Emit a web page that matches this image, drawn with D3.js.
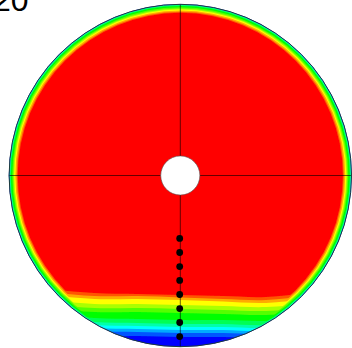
<!DOCTYPE html>
<html>
<head>
<meta charset="utf-8">
<script src="https://cdn.jsdelivr.net/npm/d3@7"></script>
<style>
  html, body { margin: 0; padding: 0; background: #fff; }
  svg { display: block; }
</style>
</head>
<body>
<svg id="chart" width="352" height="348"></svg>
<script>
// Cross-section of the pipe, coordinates normalised by the pipe radius (x/R, y/R).
const frameLabel = "20";

// Field value carried by each contour band (1 = bulk phase, 0 = settled layer).
const bandValues = [0.917, 0.833, 0.75, 0.667, 0.583, 0.5, 0.417, 0.333, 0.25, 0.167, 0.083, 0];

// Horizontal stations at which the band interfaces are sampled.
const stationX = [-1, -0.75, -0.5, -0.25, 0, 0.25, 0.5, 0.75, 1];

// Upper edge (y/R) of each band in the bottom layer, one row per band.
const layerTop = [
  [-0.609, -0.662, -0.685, -0.691, -0.697, -0.703, -0.708, -0.679, -0.621],
  [-0.627, -0.679, -0.703, -0.703, -0.711, -0.720, -0.726, -0.697, -0.638],
  [-0.644, -0.697, -0.720, -0.720, -0.726, -0.735, -0.743, -0.714, -0.656],
  [-0.668, -0.726, -0.749, -0.749, -0.755, -0.761, -0.767, -0.743, -0.679],
  [-0.691, -0.749, -0.773, -0.773, -0.778, -0.784, -0.790, -0.767, -0.703],
  [-0.714, -0.773, -0.796, -0.796, -0.802, -0.808, -0.813, -0.790, -0.726],
  [-0.749, -0.808, -0.831, -0.837, -0.843, -0.843, -0.848, -0.825, -0.761],
  [-0.773, -0.831, -0.854, -0.860, -0.866, -0.866, -0.872, -0.848, -0.784],
  [-0.790, -0.848, -0.872, -0.878, -0.883, -0.883, -0.889, -0.866, -0.802],
  [-0.808, -0.866, -0.889, -0.895, -0.901, -0.901, -0.907, -0.883, -0.819],
  [-0.825, -0.883, -0.907, -0.913, -0.918, -0.918, -0.924, -0.901, -0.837],
  [-0.854, -0.913, -0.936, -0.936, -0.942, -0.942, -0.948, -0.924, -0.866]
];

// Thickness (fraction of R) of each band in the film along the pipe wall.
const wallDepth = [0.052, 0.046, 0.038, 0.032, 0.026, 0.020, 0.012, 0.008, 0.005, 0.003, 0.002, 0.001];

// Inner core radius (fraction of R).
const coreRadius = [0.114];

// Probe positions on the vertical centreline (y/R).
const probeY = [-0.367, -0.449, -0.531, -0.612, -0.694, -0.776, -0.857, -0.939];

const svg = d3.select("#chart");
const cx = 180.3, cy = 175.5, R = 171.5;

const x = d3.scaleLinear().domain([-1, 1]).range([cx - R, cx + R]);
const y = d3.scaleLinear().domain([-1, 1]).range([cy + R, cy - R]);
const rr = d3.scaleLinear().domain([0, 1]).range([0, R]);

const color = d3.scaleLinear()
  .domain([0, 0.25, 0.5, 0.75, 1])
  .range(["#0000ff", "#00ffff", "#00ff00", "#ffff00", "#ff0000"])
  .interpolate(d3.interpolateRgb);

const defs = svg.append("defs");
defs.append("clipPath").attr("id", "pipe")
  .append("circle").attr("cx", x(0)).attr("cy", y(0)).attr("r", rr(1));
defs.append("filter").attr("id", "soft")
  .append("feGaussianBlur").attr("stdDeviation", 0.5);

const field = svg.append("g").attr("clip-path", "url(#pipe)");
const bands = field.append("g").attr("filter", "url(#soft)");

// bulk
bands.append("circle")
  .attr("cx", x(0)).attr("cy", y(0)).attr("r", rr(1) + 2)
  .attr("fill", color(1));

const area = d3.area()
  .x(d => x(d[0]))
  .y0(y(-1.1))
  .y1(d => y(d[1]))
  .curve(d3.curveCatmullRom);

bandValues.forEach((v, i) => {
  const g = bands.append("g").attr("fill", color(v));
  // wall film: annulus between the wall and the band's inner edge
  const ring = d3.path();
  ring.arc(x(0), y(0), rr(1) + 3, 0, 2 * Math.PI);
  ring.moveTo(x(0) + rr(1 - wallDepth[i]), y(0));
  ring.arc(x(0), y(0), rr(1 - wallDepth[i]), 0, 2 * Math.PI, true);
  g.append("path").attr("d", ring.toString()).attr("fill-rule", "evenodd");
  // settled layer below the band interface
  g.append("path").attr("d", area(stationX.map((sx, k) => [sx, layerTop[i][k]])));
});

// centre lines
field.append("line")
  .attr("x1", x(-1)).attr("x2", x(1))
  .attr("y1", y(0)).attr("y2", y(0))
  .attr("stroke", "#000").attr("stroke-opacity", 0.6).attr("stroke-width", 1);
field.append("line")
  .attr("x1", x(0)).attr("x2", x(0))
  .attr("y1", y(1)).attr("y2", y(-1))
  .attr("stroke", "#000").attr("stroke-opacity", 0.6).attr("stroke-width", 1);

// pipe wall
svg.append("circle")
  .attr("cx", x(0)).attr("cy", y(0)).attr("r", rr(1) - 0.3)
  .attr("fill", "none").attr("stroke", "#1f3d38").attr("stroke-width", 1);

// core
svg.append("circle")
  .attr("cx", x(0)).attr("cy", y(0)).attr("r", rr(coreRadius[0]) + 0.0)
  .attr("fill", "#fff").attr("stroke", "#555").attr("stroke-width", 0.6);

// probes
svg.append("g").selectAll("circle")
  .data(probeY)
  .join("circle")
  .attr("cx", x(0) - 0.6)
  .attr("cy", d => y(d))
  .attr("r", 3.4)
  .attr("fill", "#000");

// frame label
svg.append("text")
  .attr("x", -7)
  .attr("y", 10.6)
  .attr("font-family", "Liberation Sans, Arial, sans-serif")
  .attr("font-size", 32)
  .attr("fill", "#000")
  .text(frameLabel);
</script>
</body>
</html>
